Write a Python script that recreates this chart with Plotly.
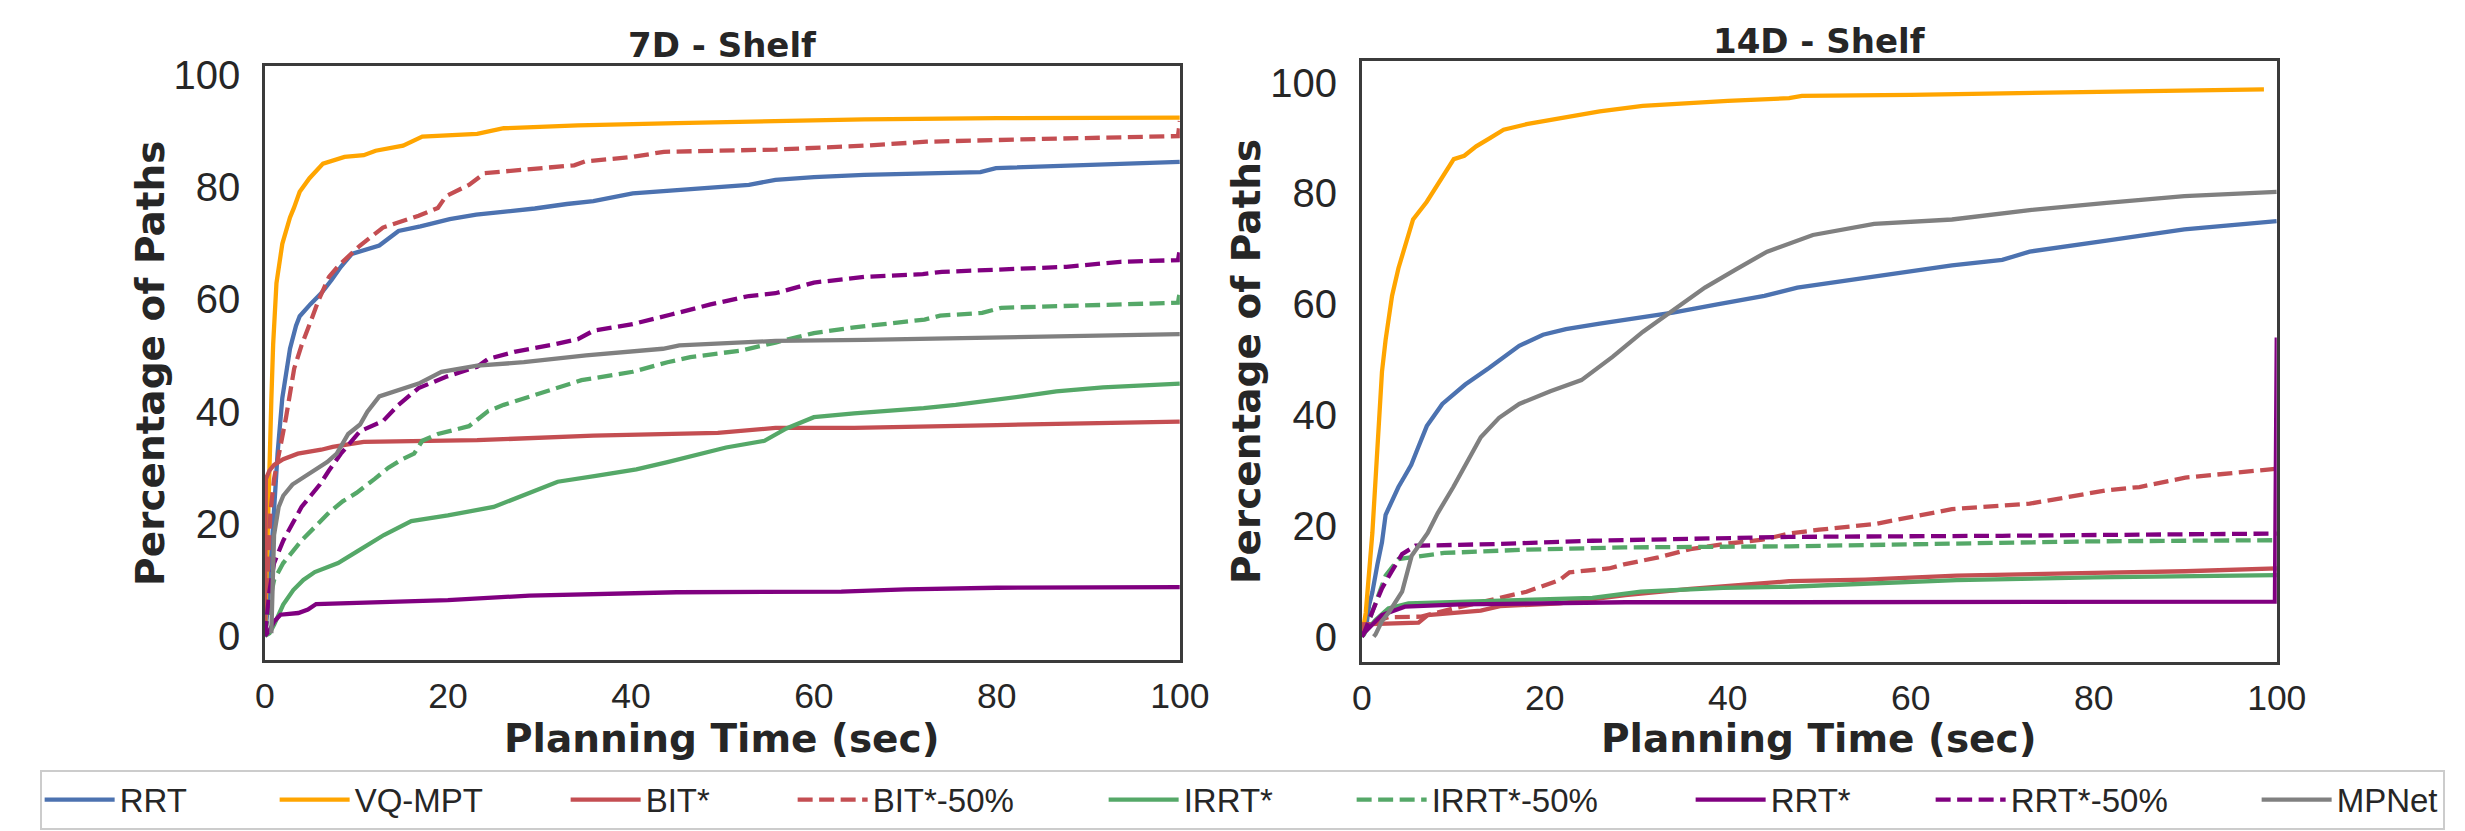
import plotly.graph_objects as go

# ---- 7D - Shelf (left) ----
t_rrt_7d = [0, 0.3, 0.6, 1.0, 1.38, 1.9, 2.74, 3.4, 3.8, 5.0, 6.15, 7.3, 8.3, 9.5, 11.0, 12.5, 14.6, 17.0, 20.2, 23.1,
            26.0, 29.5, 33.0, 35.9, 40.2, 46.0, 52.9, 55.8, 60.0, 65.5, 72.0, 78.2, 79.9, 89.7, 100]
p_rrt_7d = [0, 5, 12, 22, 32.5, 42.4, 51.2, 55.3, 57, 59.2, 61.1, 63.5, 65.8, 68.1, 68.8, 69.6, 72.2, 73.0, 74.3, 75.1,
            75.6, 76.2, 77.0, 77.5, 78.9, 79.5, 80.4, 81.3, 81.8, 82.2, 82.4, 82.7, 83.4, 84.0, 84.5]

t_vq_7d = [0, 0.15, 0.3, 0.54, 0.7, 0.9, 1.26, 1.9, 2.74, 3.17, 3.8, 4.87, 5.7, 6.35, 8.7, 10.8, 12.1, 15.1, 17.2,
           23.2, 26.1, 34.2, 45.0, 55.8, 65.5, 80.0, 100]
p_vq_7d = [0, 10, 20, 32.5, 42, 52, 62.9, 69.9, 74.6, 76.3, 79.2, 81.6, 83.0, 84.2, 85.4, 85.7, 86.5, 87.4, 89.0,
           89.5, 90.5, 91.0, 91.4, 91.8, 92.1, 92.3, 92.4]

t_bit_7d = [0, 0.05, 0.1, 0.5, 1.0, 2.0, 3.6, 6.15, 7.4, 10.8, 23.2, 35.9, 49.5, 55.8, 64.4, 80.0, 100]
p_bit_7d = [0, 20, 28, 29.5, 30.5, 31.5, 32.5, 33.2, 33.7, 34.6, 34.9, 35.7, 36.2, 37.1, 37.1, 37.6, 38.2]

t_bit50_7d = [0, 0.3, 0.6, 1.0, 1.6, 2.3, 3.2, 4.0, 5.1, 5.9, 7.0, 8.1, 10.4, 12.9, 16.8, 18.9, 19.8, 22.3, 24.0,
              27.4, 33.8, 35.0, 40.2, 43.6, 55.8, 65.5, 72.3, 85.0, 99.8, 100]
p_bit50_7d = [0, 12, 22, 28, 33, 38.9, 47.7, 51.8, 56.5, 60.0, 64.0, 66.1, 69.6, 72.8, 74.9, 76.3, 78.4, 80.4, 82.5,
              83.0, 83.9, 84.6, 85.4, 86.3, 86.7, 87.4, 88.1, 88.6, 89.1, 91.8]

t_irrt_7d = [0, 0.5, 1.0, 2.0, 3.1, 4.2, 5.45, 8.0, 10.0, 13.0, 16.0, 20.0, 25.0, 28.0, 32.0, 36.0, 40.6, 44.0, 47.8,
             50.4, 54.6, 57.0, 60.0, 64.4, 72.0, 75.5, 82.7, 86.5, 91.6, 100]
p_irrt_7d = [0, 0.5, 2, 5.6, 8.2, 10, 11.4, 13, 15, 18, 20.5, 21.5, 23, 25, 27.5, 28.5, 29.7, 31, 32.5,
             33.6, 34.8, 37, 39, 39.7, 40.6, 41.2, 42.7, 43.6, 44.3, 45]

t_irrt50_7d = [0, 0.5, 1, 2, 3, 4, 5.5, 7, 8.5, 10, 12, 13.5, 15, 16.3, 17.2, 18.9, 22.3, 24.4, 26.1, 29.1, 31.7,
               34.6, 40.2, 44.0, 46.5, 52.1, 55.8, 60, 64.4, 72.1, 73.8, 78.4, 80.5, 99.8, 100]
p_irrt50_7d = [0, 6, 10, 13, 15, 17, 19.5, 22, 24, 25.5, 28, 30, 31.5, 32.5, 34.8, 36, 37.4, 40.1, 41.2, 42.7, 44.2,
               45.6, 47.1, 48.8, 49.7, 50.9, 52.3, 54, 55, 56.4, 57.1, 57.6, 58.5, 59.4, 61.5]

t_rrts_7d = [0, 0.5, 1, 1.7, 3.65, 4.7, 5.6, 20, 28.9, 45, 63, 70, 80, 100]
p_rrts_7d = [0, 1, 2.6, 3.8, 4.1, 4.7, 5.7, 6.4, 7.2, 7.8, 7.9, 8.3, 8.6, 8.7]

t_rrts50_7d = [0, 0.5, 1, 2, 3, 4, 5, 6, 7, 8.3, 10.4, 12.9, 14.6, 16.8, 19.8, 23.2, 24.4, 27.4, 31.7, 34.2, 35.9,
               40.2, 44.4, 48.7, 52.9, 55.8, 60, 65.5, 71.9, 74, 87.6, 93.5, 99.8, 100]
p_rrts50_7d = [0, 8, 13, 17, 20, 23, 25, 27, 29.5, 32.5, 36.5, 38.3, 41.2, 44.2, 46.2, 48, 49.4, 50.7, 52, 52.9, 54.4,
               55.6, 57.3, 59.1, 60.6, 61.1, 63, 64, 64.5, 64.9, 65.8, 66.7, 67, 69]

t_mpnet_7d = [0.7, 0.8, 1.0, 1.5, 2, 3, 4, 5.5, 6.8, 7.85, 9.1, 10.4, 11.2, 12.5, 14.2, 16.8, 19.3, 23.2, 28.3, 35.1,
              43.5, 45.3, 55.8, 65.5, 100]
p_mpnet_7d = [0.5, 10, 18, 23, 25, 27, 28, 29.5, 31, 32.5, 36, 37.7, 40, 42.7, 43.6, 45, 47.1, 48.2, 48.8, 50,
              51.2, 51.8, 52.6, 52.8, 53.8]

# ---- 14D - Shelf (right) ----
t_rrt_14d = [0, 0.5, 0.8, 1.15, 1.7, 2.2, 2.6, 3.3, 4, 4.7, 5.4, 6, 7.1, 8.8, 11.3, 13.9, 17.2, 19.8, 22.3, 26, 30,
             34, 39, 44, 47.6, 52, 56, 64.5, 70, 73, 81.4, 89.9, 100]
p_rrt_14d = [0, 2, 5.7, 8, 13, 17, 22, 24.5, 27, 29, 31, 33.5, 38, 42, 45.5, 48.5, 52.5, 54.5, 55.5, 56.5, 57.5,
             58.5, 60, 61.5, 63, 64, 65, 67, 68, 69.5, 71.5, 73.5, 75]

t_vq_14d = [0, 0.43, 1.15, 1.7, 2.2, 2.6, 3.3, 4, 4.7, 5.6, 7.1, 8.3, 9.2, 10.05, 11.2, 12.5, 14, 15.5, 18, 22.3, 26,
            30.7, 35, 40, 46.7, 48.1, 60, 70, 86.1, 98.6]
p_vq_14d = [0, 4.3, 18.7, 33.3, 47.8, 53.6, 61.5, 66.5, 70.5, 75.3, 78.5, 81.5, 83.9, 86.2, 86.8, 88.5, 90, 91.5,
            92.5, 93.8, 94.8, 95.8, 96.3, 96.7, 97.2, 97.6, 97.8, 98.1, 98.5, 98.8]

t_bit_14d = [0, 0.07, 6.2, 7.2, 13, 15.1, 21.6, 28.8, 35.9, 44.2, 46.7, 55, 65, 80, 90, 100]
p_bit_14d = [0, 2.2, 2.5, 3.9, 4.7, 5.5, 6, 7.5, 8.6, 9.6, 10, 10.3, 11, 11.5, 11.8, 12.3]

t_bit50_14d = [0, 0.43, 2.9, 6.5, 10.1, 14.4, 18, 21.6, 22.7, 27, 28.8, 32.4, 35.9, 39.5, 43.8, 46.7, 50, 56, 60,
               64.5, 73, 81.4, 85, 90, 100]
p_bit50_14d = [0, 2.2, 3.5, 3.6, 5.1, 6.8, 8.1, 10.2, 11.6, 12.3, 13.1, 14.3, 15.8, 16.7, 17.5, 18.6, 19.3, 20.3,
               21.5, 23, 24, 26.4, 27, 28.7, 30.3]

t_irrt_14d = [0, 0.3, 1.5, 2.9, 5.1, 14.4, 25.2, 30.5, 39.5, 46.7, 55, 65, 80, 100]
p_irrt_14d = [0, 0.7, 3, 5.1, 6, 6.4, 7, 8.1, 8.8, 9, 9.6, 10.2, 10.7, 11.1]

t_irrt50_14d = [0, 0.25, 1.15, 2.6, 4, 9, 18, 28.7, 46.7, 60, 80, 99.8]
p_irrt50_14d = [0, 0.4, 4.5, 11, 14, 15.1, 15.7, 16.1, 16.3, 16.7, 17.2, 17.4]

t_rrts_14d = [0, 0.25, 2.2, 4.7, 10.8, 28.8, 46.7, 70, 99.8, 100]
p_rrts_14d = [0, 0.7, 3.9, 5.4, 5.8, 6.2, 6.2, 6.3, 6.3, 54]

t_rrts50_14d = [0, 0.25, 1.15, 2.2, 3.2, 4.4, 5.85, 14.4, 25.2, 41.3, 46.7, 70, 100]
p_rrts50_14d = [0, 0.7, 4.5, 8.7, 11.6, 14.9, 16.4, 16.7, 17.3, 17.7, 18.0, 18.2, 18.6]

t_mpnet_14d = [1.3, 1.5, 2.2, 3, 4.4, 5.45, 7.2, 8.3, 10, 11.3, 13, 15, 17.2, 20.6, 24, 27.4, 30.7, 34.1, 37.5, 40.9,
               44.3, 49.3, 56, 64.5, 73, 81.4, 89.9, 100]
p_mpnet_14d = [0, 0.4, 2.8, 4.5, 8.1, 14.6, 18.7, 22.3, 27, 31, 36, 39.5, 42, 44.3, 46.3, 50.5, 55, 59, 63, 66.3,
               69.5, 72.5, 74.5, 75.3, 77, 78.3, 79.5, 80.3]

names = ["RRT", "VQ-MPT", "BIT*", "BIT*-50%", "IRRT*", "IRRT*-50%", "RRT*", "RRT*-50%", "MPNet"]
colors = ["#4C72B0", "#FFA500", "#C44E52", "#C44E52", "#55A868", "#55A868", "#800080", "#800080", "#808080"]
dashes = ["solid", "solid", "solid", "15px,6.5px", "solid", "15px,6.5px", "solid", "15px,6.5px", "solid"]
legend_w = [150, 206, 142, 226, 163, 254, 155, 241, 101]

left = [(t_rrt_7d, p_rrt_7d), (t_vq_7d, p_vq_7d), (t_bit_7d, p_bit_7d), (t_bit50_7d, p_bit50_7d),
        (t_irrt_7d, p_irrt_7d), (t_irrt50_7d, p_irrt50_7d), (t_rrts_7d, p_rrts_7d),
        (t_rrts50_7d, p_rrts50_7d), (t_mpnet_7d, p_mpnet_7d)]
right = [(t_rrt_14d, p_rrt_14d), (t_vq_14d, p_vq_14d), (t_bit_14d, p_bit_14d), (t_bit50_14d, p_bit50_14d),
         (t_irrt_14d, p_irrt_14d), (t_irrt50_14d, p_irrt50_14d), (t_rrts_14d, p_rrts_14d),
         (t_rrts50_14d, p_rrts50_14d), (t_mpnet_14d, p_mpnet_14d)]

fig = go.Figure()
for i, (x, y) in enumerate(left):
    fig.add_trace(go.Scatter(x=x, y=y, mode="lines", name=names[i], legendgroup=names[i],
                             legendwidth=legend_w[i],
                             line=dict(color=colors[i], width=4.3, dash=dashes[i]),
                             xaxis="x", yaxis="y"))
for i, (x, y) in enumerate(right):
    fig.add_trace(go.Scatter(x=x, y=y, mode="lines", name=names[i], legendgroup=names[i], showlegend=False,
                             line=dict(color=colors[i], width=4.3, dash=dashes[i]),
                             xaxis="x2", yaxis="y2"))

W, H = 2465, 831
ink = "#262626"
spine = "#3b3b3b"
tick_font_x = dict(family="Liberation Sans, Arial, sans-serif", size=35.5, color=ink)
tick_font_y = dict(family="Liberation Sans, Arial, sans-serif", size=40, color=ink)
ticks = [0, 20, 40, 60, 80, 100]

axis_common = dict(showline=True, mirror=True, linecolor=spine, linewidth=2.5, showgrid=False,
                   zeroline=False, ticks="", tickvals=ticks)

fig.update_layout(
    width=W, height=H,
    margin=dict(l=0, r=0, t=0, b=0),
    paper_bgcolor="white", plot_bgcolor="white",
    xaxis=dict(axis_common, domain=[251 / W, 1181 / W], range=[0, 100], anchor="y",
               tickfont=tick_font_x, ticklabelstandoff=3),
    yaxis=dict(axis_common, domain=[1 - 649.3 / H, 1 - 45.7 / H], range=[-4.3, 101.6], anchor="x",
               tickfont=tick_font_y, ticklabelstandoff=14),
    xaxis2=dict(axis_common, domain=[1366 / W, 2296 / W], range=[0, 100], anchor="y2",
                tickfont=tick_font_x, ticklabelstandoff=3),
    yaxis2=dict(axis_common, domain=[1 - 650.7 / H, 1 - 40.7 / H], range=[-4.5, 103.9], anchor="x2",
                tickfont=tick_font_y, ticklabelstandoff=14),
    legend=dict(orientation="h", x=22 / W, xanchor="left", y=1 - 791 / H, yanchor="middle",
                font=dict(family="Liberation Sans, Arial, sans-serif", size=33, color=ink),
                bordercolor="#cccccc", borderwidth=2, bgcolor="white", itemwidth=70),
    showlegend=True,
)

bold = dict(family="DejaVu Sans", color=ink)
annos = [
    dict(text="<b>7D - Shelf</b>", x=716 / W, y=1 - 24.4 / H, font=dict(bold, size=34)),
    dict(text="<b>14D - Shelf</b>", x=1831 / W, y=1 - 20.7 / H, font=dict(bold, size=34)),
    dict(text="<b>Planning Time (sec)</b>", x=716 / W, y=1 - 729 / H, font=dict(bold, size=39)),
    dict(text="<b>Planning Time (sec)</b>", x=1831 / W, y=1 - 729 / H, font=dict(bold, size=39)),
    dict(text="<b>Percentage of Paths</b>", x=134 / W, y=1 - 347.5 / H, textangle=-90, font=dict(bold, size=39)),
    dict(text="<b>Percentage of Paths</b>", x=1249 / W, y=1 - 345.7 / H, textangle=-90, font=dict(bold, size=39)),
]
for a in annos:
    fig.add_annotation(xref="paper", yref="paper", showarrow=False, xanchor="center", yanchor="middle", **a)

fig.write_html("out.html")
